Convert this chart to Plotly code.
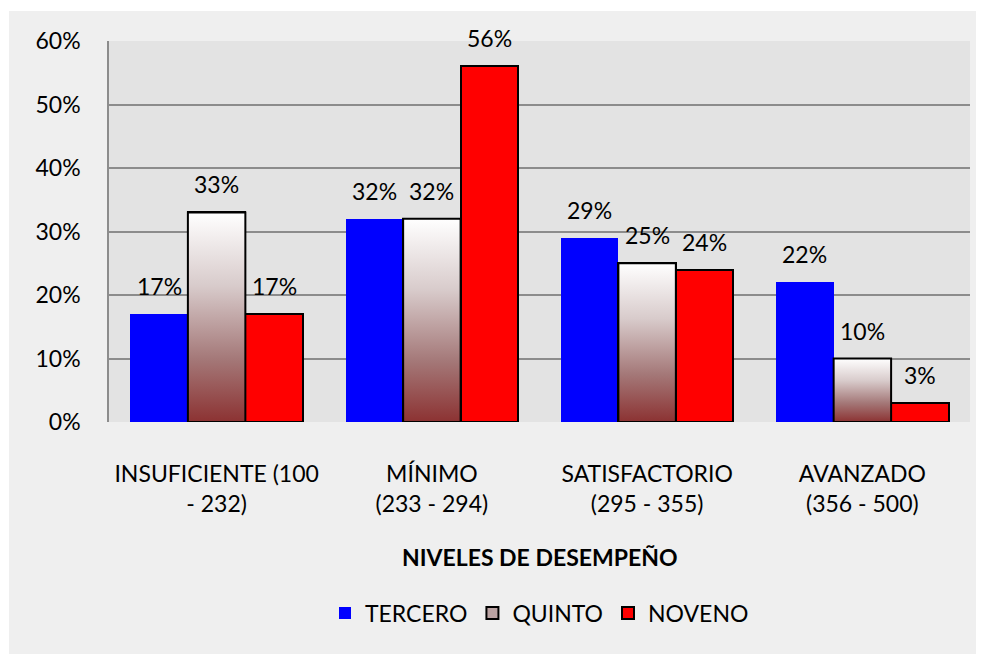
import plotly.graph_objects as go

# ---- data ----
cat_labels = ["INSUFICIENTE (100<br>- 232)", "MÍNIMO<br>(233 - 294)",
              "SATISFACTORIO<br>(295 - 355)", "AVANZADO<br>(356 - 500)"]
tercero = [17, 32, 29, 22]
quinto = [33, 32, 25, 10]
noveno = [17, 56, 24, 3]
y_ticks = [0, 10, 20, 30, 40, 50, 60]
x_title = "NIVELES DE DESEMPEÑO"
series_names = ["TERCERO", "QUINTO", "NOVENO"]

FONT = "Lato, 'Open Sans', sans-serif"
FS = 23
bw = 0.267
idx = list(range(len(cat_labels)))
PW, PH = 861, 381  # plot area size in px

fig = go.Figure()

# Tercero
fig.add_trace(go.Bar(
    x=[i - bw for i in idx], y=tercero, width=bw, name=series_names[0],
    marker=dict(color="#0000ff", line=dict(width=0)),
))

# Quinto: base bars (legend + outline) ...
fig.add_trace(go.Bar(
    x=idx, y=quinto, width=bw, name=series_names[1],
    marker=dict(color="#bba3a3", line=dict(color="#000000", width=2)),
))
# ... overlaid with gradient fills
grad = [[0, "#8c3232"], [0.3, "#a47878"], [0.65, "#d8cbcb"], [1, "#ffffff"]]
for i, v in zip(idx, quinto):
    x0, x1 = i - bw / 2, i + bw / 2
    fig.add_trace(go.Scatter(
        x=[x0, x1, x1, x0, x0], y=[0, 0, v, v, 0], mode="lines",
        fill="toself", fillgradient=dict(type="vertical", colorscale=grad),
        line=dict(color="#000000", width=2),
        showlegend=False, hoverinfo="skip",
    ))

# Noveno
fig.add_trace(go.Bar(
    x=[i + bw for i in idx], y=noveno, width=bw, name=series_names[2],
    marker=dict(color="#ff0000", line=dict(color="#000000", width=2)),
))

# data labels
for offs, vals in ((-bw, tercero), (0, quinto), (bw, noveno)):
    for i, v in zip(idx, vals):
        fig.add_annotation(x=i + offs, y=v, text=f"{v}%", showarrow=False,
                           yshift=28, font=dict(family=FONT, size=FS, color="#000"))

# backgrounds
fig.add_shape(type="rect", xref="paper", yref="paper", x0=-100 / PW, x1=1.1,
              y0=-1, y1=1 + 30 / PH, fillcolor="#efefef", line=dict(width=0), layer="below")
fig.add_shape(type="rect", xref="paper", yref="paper", x0=0, x1=1, y0=0, y1=1,
              fillcolor="#e3e3e3", line=dict(width=0), layer="below")

fig.add_annotation(x=0.5, xref="paper", y=-135 / PH, yref="paper", yanchor="middle",
                   text=f"<b>{x_title}</b>", showarrow=False,
                   font=dict(family=FONT, size=23, color="#000"))

fig.update_layout(
    width=984, height=654,
    margin=dict(l=101, r=22, t=33, b=240),
    paper_bgcolor="#ffffff", plot_bgcolor="rgba(0,0,0,0)",
    font=dict(family=FONT, size=FS, color="#000"),
    showlegend=True,
    legend=dict(orientation="h", x=0.5, xanchor="center", y=-191 / PH, yanchor="middle",
                font=dict(family=FONT, size=FS), bgcolor="rgba(0,0,0,0)",
                itemwidth=30, traceorder="normal"),
    bargap=0,
)
fig.update_xaxes(range=[-0.5, 3.5], tickvals=idx, ticktext=cat_labels,
                 showgrid=False, zeroline=False, showline=False,
                 ticks="outside", ticklen=31, tickcolor="rgba(0,0,0,0)",
                 tickfont=dict(family=FONT, size=FS))
fig.update_yaxes(range=[0, 60], tickvals=y_ticks, ticktext=[f"{t}%" for t in y_ticks],
                 showgrid=True, gridcolor="#8c8c8c", gridwidth=1.5, zeroline=False,
                 showline=True, linecolor="#8c8c8c", linewidth=1.5,
                 ticks="outside", ticklen=22, tickcolor="rgba(0,0,0,0)",
                 tickfont=dict(family=FONT, size=FS))

fig.write_html("out.html")
